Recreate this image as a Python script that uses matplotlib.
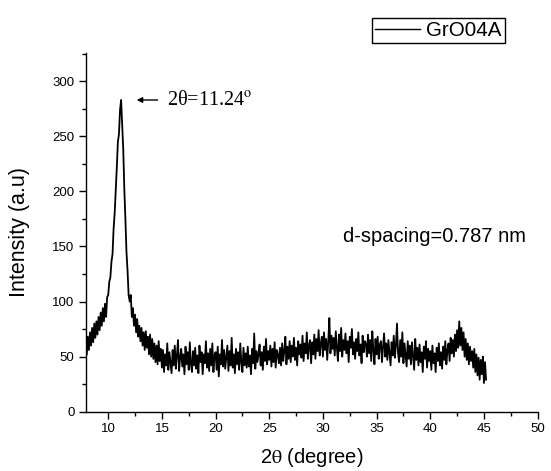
import numpy as np
import matplotlib
matplotlib.use("Agg")
import matplotlib.pyplot as plt
from matplotlib.ticker import MultipleLocator

plt.rcParams["font.family"] = ["Liberation Sans", "DejaVu Sans"]
plt.rcParams["mathtext.fontset"] = "stix"

# XRD scan of GrO04A: 2-theta grid start/step (degree) and counts
theta_start = 8.0
theta_step = 0.1
intensity = [
    # 8.0 - 8.9
    52, 68, 56, 72, 60, 76, 63, 80, 67, 82,
    # 9.0 - 9.9
    70, 86, 74, 90, 78, 94, 82, 98, 86, 104,
    # 10.0 - 10.9
    106, 118, 122, 136, 143, 166, 180, 200, 222, 245,
    # 11.0 - 11.9
    252, 274, 283, 260, 238, 202, 175, 145, 128, 106,
    # 12.0 - 12.9
    100, 106, 86, 94, 78, 88, 72, 84, 68, 78,
    # 13.0 - 13.9
    64, 76, 60, 72, 56, 73, 58, 68, 52, 70,
    # 14.0 - 14.9
    50, 66, 48, 62, 45, 60, 43, 64, 46, 57,
    # 15.0 - 15.9
    40, 56, 36, 52, 42, 62, 38, 54, 44, 35,
    # 16.0 - 16.9
    56, 42, 60, 39, 51, 65, 37, 49, 57, 41,
    # 17.0 - 17.9
    52, 34, 59, 43, 54, 38, 63, 44, 36, 55,
    # 18.0 - 18.9
    42, 58, 39, 51, 35, 60, 45, 54, 34, 52,
    # 19.0 - 19.9
    44, 64, 40, 53, 37, 57, 42, 62, 36, 51,
    # 20.0 - 20.9
    54, 38, 59, 32, 52, 43, 65, 41, 56, 39,
    # 21.0 - 21.9
    50, 60, 37, 55, 42, 67, 40, 52, 35, 57,
    # 22.0 - 22.9
    43, 54, 38, 62, 45, 36, 58, 42, 53, 40,
    # 23.0 - 23.9
    59, 41, 51, 34, 57, 44, 71, 39, 55, 45,
    # 24.0 - 24.9
    52, 61, 42, 54, 38, 59, 46, 66, 43, 55,
    # 25.0 - 25.9
    47, 60, 41, 57, 45, 63, 40, 56, 52, 44,
    # 26.0 - 26.9
    58, 42, 62, 46, 55, 68, 43, 59, 48, 64,
    # 27.0 - 27.9
    45, 60, 50, 67, 47, 58, 42, 64, 52, 61,
    # 28.0 - 28.9
    49, 69, 46, 62, 53, 72, 48, 60, 65, 44,
    # 29.0 - 29.9
    63, 52, 70, 48, 66, 55, 74, 51, 62, 68,
    # 30.0 - 30.9
    50, 72, 56, 66, 47, 64, 85, 53, 69, 57,
    # 31.0 - 31.9
    67, 51, 73, 58, 46, 70, 55, 76, 50, 65,
    # 32.0 - 32.9
    56, 71, 53, 64, 45, 68, 58, 75, 52, 63,
    # 33.0 - 33.9
    48, 66, 55, 72, 51, 61, 44, 69, 54, 64,
    # 34.0 - 34.9
    62, 50, 70, 53, 65, 46, 73, 56, 43, 66,
    # 35.0 - 35.9
    52, 68, 48, 61, 64, 45, 59, 71, 50, 62,
    # 36.0 - 36.9
    47, 65, 54, 42, 63, 51, 69, 49, 60, 80,
    # 37.0 - 37.9
    53, 45, 65, 50, 72, 44, 62, 52, 41, 64,
    # 38.0 - 38.9
    48, 60, 43, 63, 51, 38, 66, 47, 58, 42,
    # 39.0 - 39.9
    61, 45, 54, 36, 59, 48, 64, 40, 57, 46,
    # 40.0 - 40.9
    55, 38, 60, 44, 53, 36, 58, 46, 62, 42,
    # 41.0 - 41.9
    54, 39, 59, 47, 64, 43, 56, 62, 46, 67,
    # 42.0 - 42.9
    53, 65, 50, 70, 55, 74, 58, 82, 60, 76,
    # 43.0 - 43.9
    56, 72, 50, 66, 47, 62, 43, 59, 46, 55,
    # 44.0 - 44.9
    40, 57, 36, 52, 33, 49, 29, 47, 34, 50,
    # 45.0 - 45.2
    26, 45, 29,
]

series_label = "GrO04A"
peak_position = 11.24
peak_intensity = 283
d_spacing_nm = 0.787

x_ticks = [10, 15, 20, 25, 30, 35, 40, 45, 50]
y_ticks = [0, 50, 100, 150, 200, 250, 300]

two_theta = theta_start + theta_step * np.arange(len(intensity))

fig = plt.figure(figsize=(5.51, 4.71), dpi=100)
ax = fig.add_axes([0.1555, 0.126, 0.8202, 0.7622])

line, = ax.plot(two_theta, intensity, color="black", linewidth=1.3,
                label=series_label)

ax.set_xlim(7.9, 50)
ax.set_ylim(0, 326)
ax.set_xticks(x_ticks)
ax.set_yticks(y_ticks)
ax.xaxis.set_minor_locator(MultipleLocator(2.5))
ax.yaxis.set_minor_locator(MultipleLocator(25))
ax.tick_params(which="major", direction="out", length=5, width=1.0,
               labelsize=9.5, pad=3)
ax.tick_params(which="minor", direction="out", length=3, width=1.0)

for side in ("top", "right"):
    ax.spines[side].set_visible(False)
for side in ("left", "bottom"):
    ax.spines[side].set_linewidth(1.0)

ax.set_xlabel(r"2$\mathrm{\theta}$ (degree)", fontsize=14.5, labelpad=8)
ax.set_ylabel("Intensity (a.u)", fontsize=15.5, labelpad=16)

# peak marker
ax.annotate("", xy=(12.65, peak_intensity), xytext=(14.6, peak_intensity),
            arrowprops=dict(arrowstyle="-|>", color="black", lw=1.0,
                            mutation_scale=8, shrinkA=0, shrinkB=0))
ax.text(15.45, peak_intensity, "2θ=%.2f$^{\\mathrm{o}}$" % peak_position,
        family=["Liberation Serif", "DejaVu Serif"], fontsize=14.5,
        va="center", ha="left")

ax.text(31.85, 159, "d-spacing=%.3f nm" % d_spacing_nm, fontsize=14.5,
        va="center", ha="left")

leg = fig.legend(handles=[line], loc="upper left",
                 bbox_to_anchor=(0.675, 0.962), fontsize=14.8,
                 frameon=True, fancybox=False, edgecolor="black",
                 framealpha=1, borderpad=0.15, handlelength=2.2,
                 handletextpad=0.3, borderaxespad=0)
leg.get_frame().set_linewidth(1.0)
leg.get_lines()[0].set_linewidth(1.0)

fig.savefig("out.png", dpi=100)
